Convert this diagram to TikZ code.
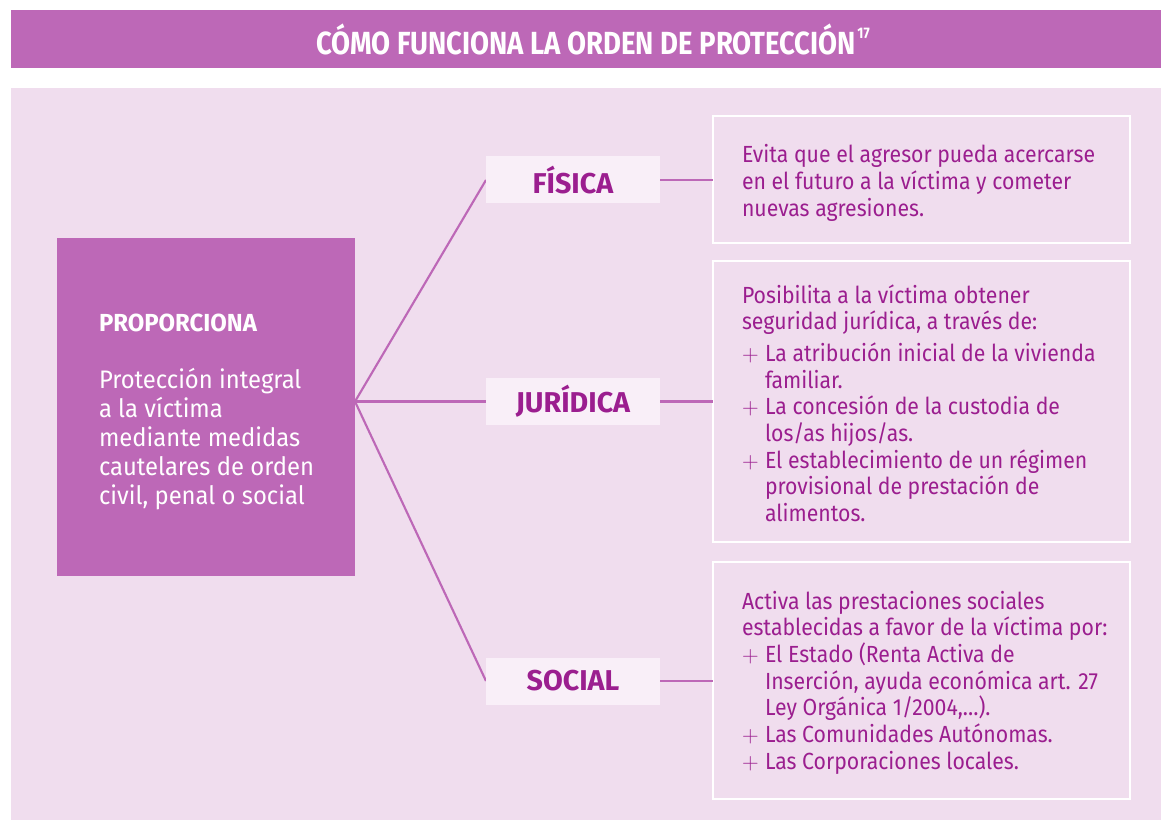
\documentclass[tikz,border=0pt]{standalone}
\usepackage{fontspec}
\setmainfont{Fira Sans}
\newfontfamily\bodyf[FakeStretch=0.91]{Fira Sans}
\newfontfamily\leftf[FakeStretch=0.94]{Fira Sans}
\newfontfamily\leftbf[FakeStretch=0.97]{Fira Sans}
\newfontfamily\labf{Fira Sans}
\newfontfamily\titlef[FakeStretch=0.86]{Fira Sans}
\definecolor{barc}{HTML}{BD68B7}
\definecolor{panelc}{HTML}{F0DDEE}
\definecolor{labc}{HTML}{F9EFF8}
\definecolor{txtc}{HTML}{9B1E8F}
\newlength\ind
\setlength\ind{17.25pt}
\newcommand\pls{\makebox[\ind][l]{$+$}}
\newcommand\cnt{\hspace*{\ind}}
\tikzset{
  every node/.style={inner sep=0pt, outer sep=0pt},
  conn/.style={draw=barc, line width=1.6pt},
  labbox/.style={fill=labc, minimum width=130.5pt, minimum height=35.25pt, font=\labf\bfseries\fontsize{21.5}{25}\selectfont, text=txtc},
  rbox/.style={draw=white, line width=1.6pt, fill=panelc},
  btext/.style={anchor=base west, text=txtc, font=\bodyf\fontsize{17.5}{20}\selectfont},
}
\begin{document}
\begin{tikzpicture}[x=0.75pt, y=-0.75pt]
\useasboundingbox (0,0) rectangle (1161,820);
% title bar
\path[fill=barc] (11,10) rectangle (1161,68);
\node[anchor=base, text=white, font=\titlef\bfseries\fontsize{24}{28}\selectfont] (title) at (593,55) {CÓMO FUNCIONA LA ORDEN DE PROTECCIÓN\kern1pt\raisebox{0.5em}{\fontsize{11.5}{14}\selectfont 17}};
% panel
\path[fill=panelc] (11,88) rectangle (1161,820);
% left box
\node[fill=barc, anchor=north west, minimum width=223.5pt, minimum height=253.5pt] (lb) at (57,238) {};
\node[anchor=base west, text=white, font=\leftbf\bfseries\fontsize{18.5}{22}\selectfont] (lbt) at (99,331) {PROPORCIONA};
\node[anchor=base west, text=white, font=\leftf\fontsize{19}{21.75}\selectfont] (lbx) at (99,388) {\parbox[t]{210pt}{\raggedright
Protección integral\\
a la víctima\\
mediante medidas\\
cautelares de orden\\
civil, penal o social}};
% label boxes
\node[labbox] (fis) at (573,180) {FÍSICA};
\node[labbox] (jur) at (573,401.5) {JURÍDICA};
\node[labbox] (soc) at (573,681) {SOCIAL};
% right boxes
\node[rbox, anchor=north west, minimum width=312.75pt, minimum height=95.25pt] (b1) at (713,116) {};
\node[rbox, anchor=north west, minimum width=312.75pt, minimum height=210.75pt] (b2) at (713,261) {};
\node[rbox, anchor=north west, minimum width=312.75pt, minimum height=177.75pt] (b3) at (713,562) {};
% connectors
\coordinate (hub) at (lb.east |- jur.west);
\draw[conn] (hub) -- (fis.west);
\draw[conn] (hub) -- (jur.west);
\draw[conn] (hub) -- (soc.west);
\draw[conn] (fis.east) -- (fis.east -| b1.west);
\draw[conn] (jur.east) -- (jur.east -| b2.west);
\draw[conn] (soc.east) -- (soc.east -| b3.west);
% redraw label boxes over lines
\node[labbox] at (fis) {FÍSICA};
\node[labbox] at (jur) {JURÍDICA};
\node[labbox] at (soc) {SOCIAL};
% texts
\node[btext] (t1) at (742,163) {\parbox[t]{300pt}{\raggedright
Evita que el agresor pueda acercarse\\
en el futuro a la víctima y cometer\\
nuevas agresiones.}};
\node[btext] (t2) at (742,303) {\parbox[t]{300pt}{\raggedright
Posibilita a la víctima obtener\\
seguridad jurídica, a través de:\\[4pt]
\pls La atribución inicial de la vivienda\\
\cnt familiar.\\
\pls La concesión de la custodia de\\
\cnt los/as hijos/as.\\
\pls El establecimiento de un régimen\\
\cnt provisional de prestación de\\
\cnt alimentos.}};
\node[btext] (t3) at (742,609) {\parbox[t]{300pt}{\raggedright
Activa las prestaciones sociales\\
establecidas a favor de la víctima por:\\
\pls El Estado (Renta Activa de\\
\cnt Inserción, ayuda económica art. 27\\
\cnt Ley Orgánica 1/2004,\dots).\\
\pls Las Comunidades Autónomas.\\
\pls Las Corporaciones locales.}};
\end{tikzpicture}
\end{document}
